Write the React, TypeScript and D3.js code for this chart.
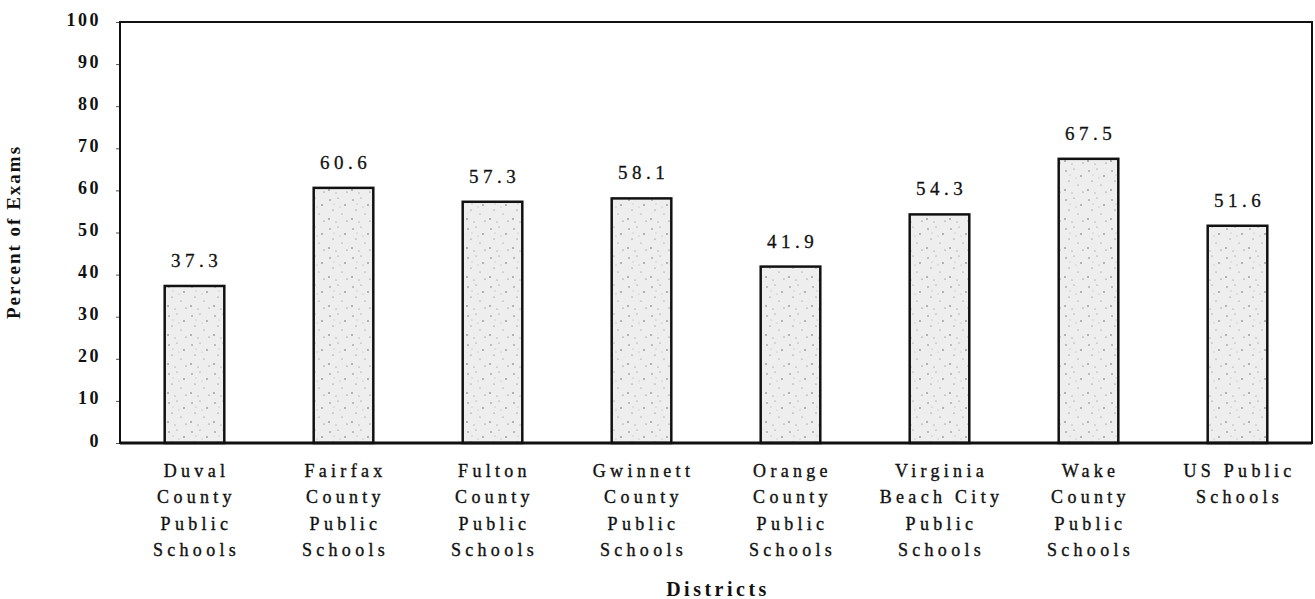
import React, { useRef, useEffect } from 'react';
import * as d3 from 'd3';

const districts = [
  ['Duval', 'County', 'Public', 'Schools'],
  ['Fairfax', 'County', 'Public', 'Schools'],
  ['Fulton', 'County', 'Public', 'Schools'],
  ['Gwinnett', 'County', 'Public', 'Schools'],
  ['Orange', 'County', 'Public', 'Schools'],
  ['Virginia', 'Beach City', 'Public', 'Schools'],
  ['Wake', 'County', 'Public', 'Schools'],
  ['US Public', 'Schools'],
];
const percents = [37.3, 60.6, 57.3, 58.1, 41.9, 54.3, 67.5, 51.6];
const yTicks = [0, 10, 20, 30, 40, 50, 60, 70, 80, 90, 100];

const App = () => {
  const ref = useRef<SVGSVGElement>(null);

  useEffect(() => {
    const svg = d3.select(ref.current);
    svg.selectAll('*').remove();

    const margin = { top: 22, right: 3, bottom: 156, left: 120 };
    const W = 1315;
    const H = 599;
    const width = W - margin.left - margin.right;
    const height = H - margin.top - margin.bottom;
    const font = '"Liberation Serif", "Times New Roman", serif';

    // speckled fill for the bars
    const defs = svg.append('defs');
    const pat = defs
      .append('pattern')
      .attr('id', 'speckle')
      .attr('patternUnits', 'userSpaceOnUse')
      .attr('width', 23)
      .attr('height', 29);
    pat.append('rect').attr('width', 23).attr('height', 29).attr('fill', '#eeeeee');
    const dots = [
      [3, 4, 0.7], [11, 2, 0.5], [18, 9, 0.8], [6, 14, 0.6], [15, 18, 0.5],
      [2, 23, 0.8], [20, 25, 0.6], [9, 26, 0.5], [13, 11, 0.4], [7, 8, 0.4],
    ];
    dots.forEach(([cx, cy, r]) => {
      pat.append('circle').attr('cx', cx).attr('cy', cy).attr('r', r).attr('fill', '#666');
    });

    const g = svg.append('g').attr('transform', `translate(${margin.left},${margin.top})`);

    const x = d3
      .scaleBand<number>()
      .domain(d3.range(percents.length))
      .range([0, width])
      .paddingInner(0.6)
      .paddingOuter(0.3);
    const y = d3.scaleLinear().domain([0, 100]).range([height, 0]);

    // y axis ticks and labels
    const yAxis = g.append('g').call(
      d3.axisLeft(y).tickValues(yTicks).tickSize(4).tickPadding(15)
    );
    yAxis.select('.domain').remove();
    yAxis.selectAll('line').attr('stroke', '#555').attr('stroke-width', 1);
    yAxis
      .selectAll('text')
      .attr('font-family', font)
      .attr('font-size', 18)
      .attr('font-weight', 'bold')
      .attr('letter-spacing', 2.5)
      .attr('fill', '#111')
      .attr('dy', '0.17em');

    // bars
    g.selectAll('rect.bar')
      .data(percents)
      .join('rect')
      .attr('class', 'bar')
      .attr('x', (_, i) => x(i)!)
      .attr('y', d => y(d))
      .attr('width', x.bandwidth())
      .attr('height', d => height - y(d))
      .attr('fill', 'url(#speckle)')
      .attr('stroke', '#111')
      .attr('stroke-width', 2.5);

    // value labels
    g.selectAll('text.val')
      .data(percents)
      .join('text')
      .attr('class', 'val')
      .attr('x', (_, i) => x(i)! + x.bandwidth() / 2 + 2)
      .attr('y', d => y(d) - 19)
      .attr('text-anchor', 'middle')
      .attr('font-family', font)
      .attr('font-size', 19)
      .attr('letter-spacing', 4.5)
      .attr('fill', '#111')
      .attr('stroke', '#111')
      .attr('stroke-width', 0.3)
      .text(d => d.toFixed(1));

    // plot frame
    g.append('rect')
      .attr('width', width)
      .attr('height', height)
      .attr('fill', 'none')
      .attr('stroke', '#111')
      .attr('stroke-width', 2);
    g.append('line')
      .attr('x1', 0)
      .attr('x2', width)
      .attr('y1', height)
      .attr('y2', height)
      .attr('stroke', '#111')
      .attr('stroke-width', 3);

    // category labels
    const cat = g
      .selectAll('text.cat')
      .data(districts)
      .join('text')
      .attr('class', 'cat')
      .attr('text-anchor', 'middle')
      .attr('font-family', font)
      .attr('font-size', 18)
      .attr('letter-spacing', 4.3)
      .attr('fill', '#111')
      .attr('stroke', '#111')
      .attr('stroke-width', 0.35);
    cat
      .selectAll('tspan')
      .data((d, i) => d.map(line => ({ line, i })))
      .join('tspan')
      .attr('x', d => x(d.i)! + x.bandwidth() / 2 + 2)
      .attr('y', (_, k) => height + 34 + k * 26.3)
      .text(d => d.line);

    // axis titles
    svg
      .append('text')
      .attr('x', margin.left + width / 2 + 2)
      .attr('y', 596)
      .attr('text-anchor', 'middle')
      .attr('font-family', font)
      .attr('font-size', 20)
      .attr('font-weight', 'bold')
      .attr('letter-spacing', 3.5)
      .attr('fill', '#111')
      .text('Districts');

    svg
      .append('text')
      .attr('transform', `translate(20,232) rotate(-90)`)
      .attr('text-anchor', 'middle')
      .attr('font-family', font)
      .attr('font-size', 19)
      .attr('font-weight', 'bold')
      .attr('letter-spacing', 2)
      .attr('fill', '#111')
      .text('Percent of Exams');
  }, []);

  return (
    <svg
      ref={ref}
      width={1315}
      height={599}
      style={{ position: 'absolute', left: 0, top: 0, background: '#fff' }}
    />
  );
};

export default App;
